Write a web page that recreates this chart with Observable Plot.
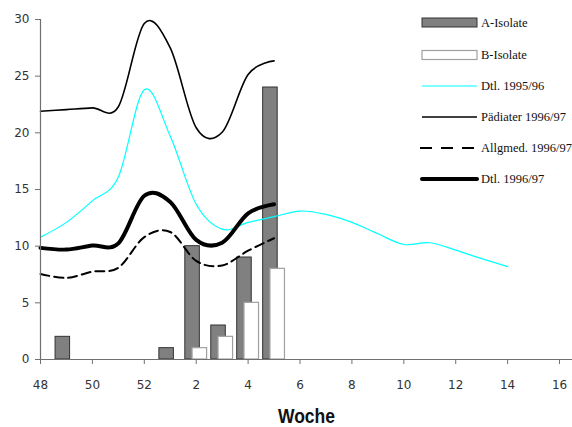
<!DOCTYPE html>
<html>
<head>
<meta charset="utf-8">
<script src="https://cdn.jsdelivr.net/npm/d3@7"></script>
<script src="https://cdn.jsdelivr.net/npm/@observablehq/plot@0.6"></script>
<style>
  html, body { margin: 0; padding: 0; background: #fff; }
  #chart svg { display: block; }
</style>
</head>
<body>
<div id="chart"></div>
<script>
// Category axis: calendar weeks 48/1996 .. 16/1997
const weekLabels = [48, 49, 50, 51, 52, 1, 2, 3, 4, 5, 6, 7, 8, 9, 10, 11, 12, 13, 14, 15, 16];
const tickWeeks = [48, 50, 52, 2, 4, 6, 8, 10, 12, 14, 16];
const yTicks = [0, 5, 10, 15, 20, 25, 30];

// Isolates (bars)
const isolateWeeks = [49, 1, 2, 3, 4, 5];
const aIsolate = [2, 1, 10, 3, 9, 24];
const bIsolate = [0, 0, 1, 2, 5, 8];

// Lines
const weeks9596 = [48, 49, 50, 51, 52, 1, 2, 3, 4, 5, 6, 7, 8, 9, 10, 11, 12, 13, 14];
const dtl9596 = [10.8, 12.1, 14.0, 16.1, 23.8, 19.7, 13.7, 11.5, 12.1, 12.6, 13.1, 12.8, 12.1, 11.1, 10.15, 10.3, 9.65, 8.9, 8.2];

const weeks9697 = [48, 49, 50, 51, 52, 1, 2, 3, 4, 5];
const paed9697 = [21.9, 22.05, 22.2, 22.3, 29.65, 27.5, 20.45, 20.05, 25.15, 26.35];
const allg9697 = [7.55, 7.2, 7.75, 8.1, 10.8, 11.25, 8.7, 8.3, 9.6, 10.7];
const dtl9697 = [9.85, 9.7, 10.05, 10.25, 14.45, 13.9, 10.55, 10.3, 12.9, 13.7];

const legendLabels = ["A-Isolate", "B-Isolate", "Dtl. 1995/96", "Pädiater 1996/97", "Allgmed. 1996/97", "Dtl. 1996/97"];
const xTitle = "Woche";

const pos = w => weekLabels.indexOf(w);
const toLine = (weeks, vals) => weeks.map((w, k) => ({i: pos(w), v: vals[k]}));
const barsA = isolateWeeks.map((w, k) => ({i: pos(w), v: aIsolate[k]})).filter(d => d.v > 0);
const barsB = isolateWeeks.map((w, k) => ({i: pos(w), v: bIsolate[k]})).filter(d => d.v > 0);

const chart = Plot.plot({
  width: 572,
  height: 427,
  marginLeft: 40,
  marginRight: 0,
  marginTop: 19,
  marginBottom: 68,
  x: {domain: [0, 20.5], axis: null, label: null},
  y: {domain: [0, 30], axis: null, label: null},
  style: {fontFamily: "DejaVu Sans, sans-serif", fontSize: "12px", background: "#fff", overflow: "visible"},
  marks: [
    Plot.rectY(barsA, {x1: d => d.i - 0.42, x2: d => d.i + 0.14, y1: 0, y2: "v", fill: "#808080", stroke: "#333", strokeWidth: 1}),
    Plot.rectY(barsB, {x1: d => d.i - 0.14, x2: d => d.i + 0.42, y1: 0, y2: "v", fill: "#fff", stroke: "#a0a0a0", strokeWidth: 1.2}),
    Plot.line(toLine(weeks9596, dtl9596), {x: "i", y: "v", curve: "cardinal", stroke: "#00ffff", strokeWidth: 1.2}),
    Plot.line(toLine(weeks9697, paed9697), {x: "i", y: "v", curve: "cardinal", stroke: "#000", strokeWidth: 1.6}),
    Plot.line(toLine(weeks9697, allg9697), {x: "i", y: "v", curve: "cardinal", stroke: "#000", strokeWidth: 2, strokeDasharray: "9,5"}),
    Plot.line(toLine(weeks9697, dtl9697), {x: "i", y: "v", curve: "cardinal", stroke: "#000", strokeWidth: 4, strokeLinejoin: "round"}),
    Plot.ruleX([0], {y1: 0, y2: 30, stroke: "#707070", strokeWidth: 1.2}),
    Plot.ruleY([0], {stroke: "#707070", strokeWidth: 1.2}),
    Plot.axisY(yTicks, {label: null, tickSize: 5, tickPadding: 6, stroke: "#707070", fill: "#333", fontSize: 12}),
    Plot.axisX(tickWeeks.map(pos), {label: null, tickSize: 5, tickPadding: 16, stroke: "#707070", fill: "#333", fontSize: 12, tickFormat: i => String(weekLabels[i])}),
    Plot.text([xTitle], {frameAnchor: "bottom", dy: 57, fontSize: 20, fontWeight: "bold", fontFamily: "Liberation Sans Narrow, Liberation Sans, sans-serif", fill: "#111", lineAnchor: "middle", className: "xtitle"})
  ]
});

// Narrow the axis title like the original condensed font
d3.select(chart).selectAll("g.xtitle text")
  .attr("textLength", 57).attr("lengthAdjust", "spacingAndGlyphs");

// Legend (drawn into the same svg)
const svg = d3.select(chart);
const rowsY = [22.5, 55, 86, 117, 148, 179];
const lg = svg.append("g").attr("text-anchor", "start");
const x0 = 422, x1 = 477;
lg.append("rect").attr("x", x0).attr("y", rowsY[0] - 4.5).attr("width", x1 - x0).attr("height", 9)
  .attr("fill", "#808080").attr("stroke", "#333");
lg.append("rect").attr("x", x0).attr("y", rowsY[1] - 4.5).attr("width", x1 - x0).attr("height", 9)
  .attr("fill", "#fff").attr("stroke", "#a0a0a0").attr("stroke-width", 1.2);
const lineStyles = [
  {stroke: "#00ffff", w: 1.2},
  {stroke: "#000", w: 1.6},
  {stroke: "#000", w: 2, dash: "12,9"},
  {stroke: "#000", w: 4}
];
lineStyles.forEach((s, k) => {
  const l = lg.append("line").attr("x1", k === 2 ? 420 : x0).attr("x2", x1)
    .attr("y1", rowsY[k + 2]).attr("y2", rowsY[k + 2])
    .attr("stroke", s.stroke).attr("stroke-width", s.w).attr("stroke-linecap", k === 3 ? "round" : "butt");
  if (s.dash) l.attr("stroke-dasharray", s.dash);
});
legendLabels.forEach((t, k) => {
  lg.append("text").attr("x", 481).attr("y", rowsY[k]).attr("dy", "0.35em")
    .attr("text-anchor", "start")
    .attr("font-family", "Liberation Serif, serif").attr("font-size", 12.5)
    .attr("fill", "#111").text(t);
});

document.getElementById("chart").appendChild(chart);
</script>
</body>
</html>
